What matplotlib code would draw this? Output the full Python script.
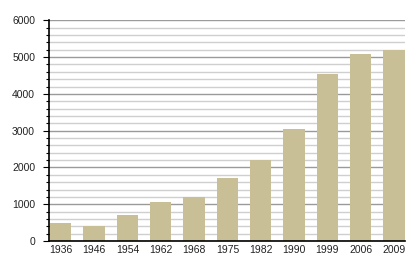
import matplotlib
matplotlib.use("Agg")
import matplotlib.pyplot as plt
from matplotlib.ticker import MultipleLocator

years = ["1936", "1946", "1954", "1962", "1968", "1975", "1982", "1990", "1999", "2006", "2009"]
values = [495, 420, 695, 1050, 1205, 1705, 2190, 3035, 4545, 5090, 5190]

plt.rcParams['font.family'] = ['Liberation Sans', 'DejaVu Sans']

fig = plt.figure(figsize=(4.15, 2.7), dpi=100)
ax = fig.add_axes([49/415, 1 - 241/270, (405 - 49)/415, (241 - 20.3)/270])

x = list(range(len(years)))
ax.bar(x, values, width=0.64, color="#c9bf97", zorder=3)

ax.set_ylim(0, 6000)
ax.set_xlim(-0.35, len(years) - 1 + 0.33)
ax.yaxis.set_major_locator(MultipleLocator(1000))
ax.yaxis.set_minor_locator(MultipleLocator(200))
ax.grid(which="major", axis="y", color="#9a9a9a", linewidth=1.0, zorder=1)
ax.grid(which="minor", axis="y", color="#cfcfcf", linewidth=1.0, zorder=1)
ax.set_xticks(x)
ax.set_xticklabels(years)
ax.tick_params(axis="x", length=0, labelsize=7.5, pad=3, labelcolor="#222222")
ax.tick_params(axis="y", which="major", length=4, width=0.8, labelsize=7.5, pad=6, labelcolor="#222222")
ax.tick_params(axis="y", which="minor", length=2.5, width=0.8)
for s in ["top", "right"]:
    ax.spines[s].set_visible(False)
ax.spines["left"].set_linewidth(1.2)
ax.spines["bottom"].set_linewidth(1.2)
ax.spines["left"].set_zorder(4)
ax.spines["bottom"].set_zorder(4)

fig.savefig("out.png", dpi=100)
